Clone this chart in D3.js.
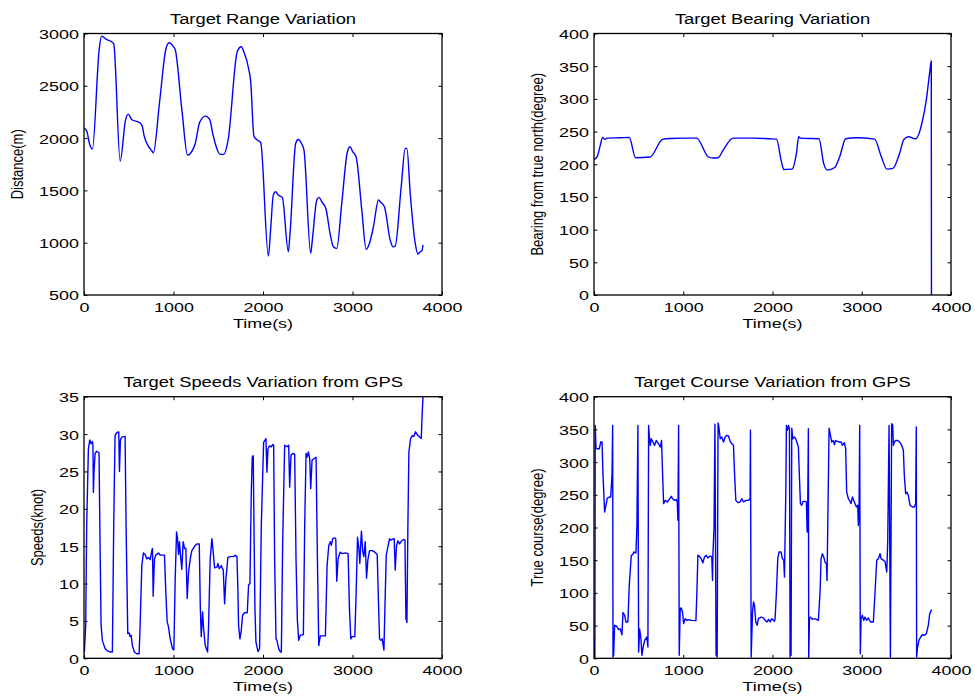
<!DOCTYPE html>
<html>
<head>
<meta charset="utf-8">
<script src="https://cdn.jsdelivr.net/npm/d3@7"></script>
<style>
  body { margin: 0; background: #fff; }
  svg { display: block; }
  text { font-family: "Liberation Sans", Arial, Helvetica, sans-serif; fill: #000; }
</style>
</head>
<body>
<svg id="fig" width="975" height="698"></svg>
<script>
// ---- shared axis ticks ----
const timeTicks = [0, 1000, 2000, 3000, 4000];
const rangeTicks = [500, 1000, 1500, 2000, 2500, 3000];
const bearingTicks = [0, 50, 100, 150, 200, 250, 300, 350, 400];
const speedTicks = [0, 5, 10, 15, 20, 25, 30, 35];
const courseTicks = [0, 50, 100, 150, 200, 250, 300, 350, 400];

// ---- target range (m) ----
const rangeTime = [0,34,56,94,169,195,251,318,333,404,464,494,532,625,651,670,719,757,775,845,
  914,951,1000,1019,1094,1157,1217,1243,1292,1356,1404,1442,1524,1562,1610,1712,1756,1786,1843,1861,
  1899,1936,1974,2060,2085,2115,2141,2171,2216,2283,2302,2365,2395,2433,2458,2533,2551,2601,2626,2656,
  2705,2749,2786,2824,2880,2943,2973,3003,3040,3104,3152,3189,3234,3290,3309,3357,3421,3451,3477,3544,
  3589,3608,3645,3701,3731,3757,3776,3787];
const rangeDist = [2099,2060,1965,1895,2841,2975,2943,2914,2898,1780,2172,2229,2178,2146,2115,2029,1923,1879,1860,2350,
  2847,2911,2873,2847,2267,1837,1892,1949,2150,2210,2178,2029,1844,1844,1981,2825,2873,2825,2650,2554,
  2019,1981,1958,872,1121,1455,1487,1455,1433,914,1089,1949,1987,1943,1885,898,1025,1408,1433,1392,
  1318,1089,962,946,1376,1869,1917,1869,1822,1312,936,993,1153,1408,1392,1344,1025,962,968,1535,
  1901,1901,1471,993,892,914,923,978];

// ---- target bearing (degree) ----
const bearingTime = [0,37,67,97,123,149,291,395,466,627,768,850,1000,1149,1279,1328,1391,1447,1559,1783,
  1969,2044,2100,2126,2219,2268,2294,2313,2398,2521,2574,2615,2697,2753,2820,2940,3144,3219,3282,3349,
  3424,3472,3525,3603,3678,3723,3760,3779,3781];
const bearingDeg = [207,212,227,241,238,240,240.5,241,210,211,238,239.5,240,240,211.5,209.5,210,221.7,240,240,
  239,238.5,204,192,192.6,216.6,242,240,239.5,239,201,191,195,211.5,239,240.5,238.5,211.5,192.6,193.6,
  216.6,238,242,239,265,298,339,358,0];

// ---- target speed from GPS (knot) ----
const speedTime = [0,4,19,30,49,64,79,94,100,105,112,124,142,168,179,191,205,235,260,291,
  317,332,347,366,388,396,407,422,459,470,489,504,515,526,541,563,590,616,627,646,
  664,683,702,720,739,758,765,773,787,802,832,851,899,914,929,944,963,989,1004,1019,
  1034,1045,1056,1067,1078,1093,1108,1123,1138,1153,1168,1187,1205,1243,1262,1288,1299,1310,1325,1336,
  1355,1381,1392,1410,1429,1440,1459,1485,1496,1511,1533,1556,1571,1586,1608,1634,1671,1690,1709,1720,
  1727,1742,1757,1772,1794,1824,1839,1854,1869,1880,1891,1899,1910,1921,1944,1962,1981,2007,2033,2044,
  2055,2070,2093,2108,2119,2130,2145,2156,2175,2194,2205,2220,2242,2268,2287,2298,2313,2332,2354,2369,
  2384,2399,2417,2436,2451,2466,2481,2492,2507,2522,2533,2548,2567,2593,2608,2623,2641,2679,2697,2716,
  2735,2753,2764,2779,2802,2813,2824,2839,2861,2884,2921,2951,2966,2981,2996,3026,3041,3056,3071,3082,
  3093,3100,3115,3127,3142,3157,3171,3190,3220,3250,3276,3287,3302,3317,3332,3351,3362,3377,3399,3414,
  3425,3444,3466,3477,3492,3507,3526,3548,3571,3586,3597,3608,3619,3630,3649,3668,3686,3705,3724,3750,
  3768,3779,3792];
const speedKnot = [0.8,0.85,4.4,17.8,28,29.2,28.7,29,28.5,22.2,25,27.4,27.7,27.5,15.6,4.4,2.4,1.3,1.0,0.85,
  0.85,17.8,29.8,30.2,30.3,25,29.2,29.6,29.7,17.8,3.3,3.4,2.9,3.1,1.7,0.85,0.6,0.6,4.4,12.4,
  14.1,13.9,13.3,13.5,13.2,14.4,14.7,8.3,13.3,13.8,14.1,13.8,13.8,8.9,4.9,4.2,2.6,1.3,1.1,10.7,
  16.9,16,13.9,15.6,13.8,11.9,15.6,14.7,14.7,8,11.5,13.3,14.4,15.1,15.3,15.3,7.1,2.9,6.2,4,
  1.7,0.85,4.4,13.3,16,14.7,12.1,12.2,12.7,12,12.4,11.8,7.3,10.7,13.5,13.6,13.6,13.8,13.6,8.9,
  4.4,2.6,3.7,5.8,6.1,6.1,9.8,10,22.2,26.9,27.1,17.8,6.6,2.2,0.9,1.3,17.8,28.9,29.4,24.9,
  28,28.4,28.3,28.6,28.5,13.3,2.6,2.4,1.3,0.85,0.85,15.6,28.5,28.3,28.5,22.9,27.2,27.4,27.3,13.3,
  5.1,2.4,3.1,3.1,3.2,17.8,27.4,26.9,27.6,26.7,22.7,26.5,26.7,26.9,13.3,1.7,3.0,3.0,3.0,12.4,
  15.1,15.6,15.1,16,16.1,16,10.3,13.3,14.2,14,14.1,14,6.6,2.6,2.9,2.9,8.9,16.2,14.7,12.7,
  15.6,17,14.2,13.6,15.6,10.7,13.1,14.4,14.4,14.2,13.9,8.9,2.6,2.4,2.6,1.1,6.6,13.8,15.1,16,
  15.8,15.9,16,11.8,15.1,15.7,15.3,15.7,15.9,15.8,5.3,4.8,17.8,27.6,29.4,29.8,29.7,30.3,29.9,29.6,
  29.4,32.9,36];

// ---- target true course from GPS (degree) ----
const courseTime = [0,6,10,14,22,30,60,75,90,101,119,134,149,172,187,202,209,213,220,231,
  254,276,295,313,325,343,358,380,395,418,433,447,470,481,492,500,511,526,537,548,
  567,593,604,612,619,630,642,660,679,698,724,743,757,769,780,798,821,843,866,880,
  903,922,933,940,948,955,966,977,992,1004,1022,1041,1060,1097,1142,1153,1164,1179,1201,1220,
  1238,1257,1275,1302,1320,1328,1332,1345,1355,1368,1380,1390,1398,1414,1432,1451,1470,1488,1507,1526,
  1544,1563,1574,1589,1612,1637,1656,1675,1701,1731,1749,1753,1761,1776,1787,1798,1813,1828,1843,1872,
  1899,1917,1936,1955,1973,1992,2022,2029,2044,2059,2074,2096,2111,2126,2134,2149,2156,2167,2179,2190,
  2197,2205,2208,2216,2227,2245,2260,2279,2290,2301,2313,2328,2343,2365,2380,2388,2395,2402,2406,2414,
  2425,2447,2477,2514,2533,2544,2559,2574,2589,2604,2611,2619,2634,2649,2664,2682,2693,2708,2727,2745,
  2768,2783,2805,2820,2831,2850,2869,2880,2895,2917,2940,2955,2962,2970,2977,2984,2992,3007,3022,3037,
  3056,3074,3097,3130,3149,3168,3187,3205,3216,3242,3261,3280,3291,3306,3321,3335,3347,3354,3365,3380,
  3403,3425,3448,3466,3477,3492,3507,3522,3541,3567,3589,3604,3611,3615,3623,3641,3660,3679,3701,3724,
  3746,3761,3783];
const courseDeg = [33,2,2,356,322,320.5,320.5,330.7,330.7,280,223.7,234,245,246.6,246.6,280,356,2,4.6,50.5,
  49,44,45,36,70,66,55.5,55.5,111.6,157.5,158.5,162.6,161,203,356,9.7,45,30,4.6,14.8,
  27.5,32.6,17.3,356,341,325.6,335.8,330.7,325.6,333,328,323,333,280,236.5,241.5,239,243,247.7,244,
  241.5,242.6,239,211,356,4.6,76,77,70.8,53,60.6,58,59,58,57.6,101.4,157.5,156.4,152.4,146,
  155,157.5,153.4,156.4,155,119,157,200,358,5,2,360,355,335.8,338.4,330.7,338.4,341,340,331.7,
  328,325.6,285,241.5,238,239,244,239,241.5,241.5,244,348.6,2,70.8,86,81,55.5,50.5,60.6,63,
  61.7,58,55.5,59.6,55.5,60.6,56.6,60.6,101,152.4,162.6,162.6,152.4,150,124.4,254,356,348.6,356,351,
  2,20,4.6,352,335.8,338.4,335.8,328,323,280,236.5,234,240,240,239,193,239,351,0.5,60.6,
  63,59.6,60.6,58,101.4,152.4,160,155,147,144.7,119,203,352,341,330.7,333,326.6,333,331.7,330.7,
  330.7,325.6,329.7,320.5,254,244,240,236.5,246.6,239,231.4,234,203,234,356,7,60.6,65.7,58,63,
  58,61.7,55.5,55.5,101.4,150,152.4,160,152.4,150,148,132,178,356,2,358.8,356,325.6,330.7,333,
  333,330.7,325.6,318,280,251.7,254,249,234,231.4,231.4,236.5,353.7,2,14.8,27.5,32.6,36,35,37.7,
  50.5,68,74.4];

// ---- layout ----
const TICK = 3.5;          // inward tick length
const TXT_STRETCH = 1.38;  // horizontal stretch of tick / label text
const TITLE_STRETCH = 1.31;
const LINE_COLOR = "#0000ff";

const panels = [
  { title: "Target Range Variation", ylabel: "Distance(m)",
    t: rangeTime, v: rangeDist, yDomain: [500, 3000], yTicks: rangeTicks,
    box: { x0: 84, x1: 442, y0: 33.5, y1: 295 }, curve: d3.curveMonotoneX },
  { title: "Target Bearing Variation", ylabel: "Bearing from true north(degree)",
    t: bearingTime, v: bearingDeg, yDomain: [0, 400], yTicks: bearingTicks,
    box: { x0: 594, x1: 951, y0: 33.5, y1: 295 }, curve: d3.curveMonotoneX },
  { title: "Target Speeds Variation from GPS", ylabel: "Speeds(knot)",
    t: speedTime, v: speedKnot, yDomain: [0, 35], yTicks: speedTicks,
    box: { x0: 84, x1: 442, y0: 396.7, y1: 658.3 }, curve: d3.curveLinear },
  { title: "Target Course Variation from GPS", ylabel: "True course(degree)",
    t: courseTime, v: courseDeg, yDomain: [0, 400], yTicks: courseTicks,
    box: { x0: 594, x1: 951, y0: 396.7, y1: 658.3 }, curve: d3.curveLinear }
];

const svg = d3.select("#fig");
svg.append("rect").attr("width", 975).attr("height", 698).attr("fill", "#fff");

panels.forEach((p, i) => {
  const { x0, x1, y0, y1 } = p.box;
  const x = d3.scaleLinear().domain([0, 4000]).range([x0, x1]);
  const y = d3.scaleLinear().domain(p.yDomain).range([y1, y0]);
  const g = svg.append("g").attr("class", "panel");

  // data line, clipped to the axes box
  const clipId = "clip" + i;
  svg.append("clipPath").attr("id", clipId)
    .append("rect").attr("x", x0).attr("y", y0).attr("width", x1 - x0).attr("height", y1 - y0);
  const pts = p.t.map((t, k) => [t, p.v[k]]);
  g.append("path")
    .datum(pts)
    .attr("clip-path", `url(#${clipId})`)
    .attr("fill", "none")
    .attr("stroke", LINE_COLOR)
    .attr("stroke-width", 1.4)
    .attr("stroke-linejoin", "round")
    .attr("d", d3.line().x(d => x(d[0])).y(d => y(d[1])).curve(p.curve));

  // bottom axis with labels
  const axB = g.append("g").attr("transform", `translate(0,${y1})`)
    .call(d3.axisBottom(x).tickValues(timeTicks).tickSizeInner(-TICK).tickSizeOuter(0).tickFormat(d3.format("d")));
  axB.selectAll("text")
    .attr("y", 7.5).attr("x", 0)
    .attr("transform", `scale(${TXT_STRETCH},1)`)
    .style("font-size", "13px");
  // top axis ticks only
  g.append("g").attr("transform", `translate(0,${y0})`)
    .call(d3.axisTop(x).tickValues(timeTicks).tickSizeInner(-TICK).tickSizeOuter(0).tickFormat(""));
  // left axis with labels
  const axL = g.append("g").attr("transform", `translate(${x0},0)`)
    .call(d3.axisLeft(y).tickValues(p.yTicks).tickSizeInner(-TICK).tickSizeOuter(0).tickFormat(d3.format("d")));
  axL.selectAll("text")
    .attr("x", -5 / TXT_STRETCH).attr("dy", "0.38em")
    .attr("transform", `scale(${TXT_STRETCH},1)`)
    .style("font-size", "13px");
  // right axis ticks only
  g.append("g").attr("transform", `translate(${x1},0)`)
    .call(d3.axisRight(y).tickValues(p.yTicks).tickSizeInner(-TICK).tickSizeOuter(0).tickFormat(""));

  g.selectAll(".domain").remove();
  g.selectAll(".tick line").attr("stroke", "#000").attr("stroke-width", 1);

  // axes box
  g.append("rect")
    .attr("x", x0).attr("y", y0).attr("width", x1 - x0).attr("height", y1 - y0)
    .attr("fill", "none").attr("stroke", "#000").attr("stroke-width", 1.3);

  const cx = (x0 + x1) / 2;
  const cy = (y0 + y1) / 2;

  // title
  g.append("text")
    .attr("transform", `translate(${cx},${y0 - 10}) scale(${TITLE_STRETCH},1)`)
    .attr("text-anchor", "middle")
    .style("font-size", "14px")
    .text(p.title);

  // x label
  g.append("text")
    .attr("transform", `translate(${cx},${y1 + 33}) scale(${TXT_STRETCH},1)`)
    .attr("text-anchor", "middle")
    .style("font-size", "13px")
    .text("Time(s)");

  // y label, placed left of the widest tick label
  let tickLeft = x0;
  axL.selectAll("text").each(function () {
    const w = this.getBBox().width * TXT_STRETCH;
    tickLeft = Math.min(tickLeft, x0 - 5 - w);
  });
  g.append("text")
    .attr("transform", `translate(${tickLeft - 16},${cy}) scale(1.25,1) rotate(-90)`)
    .attr("text-anchor", "middle")
    .style("font-size", "13px")
    .text(p.ylabel);
});
</script>
</body>
</html>
